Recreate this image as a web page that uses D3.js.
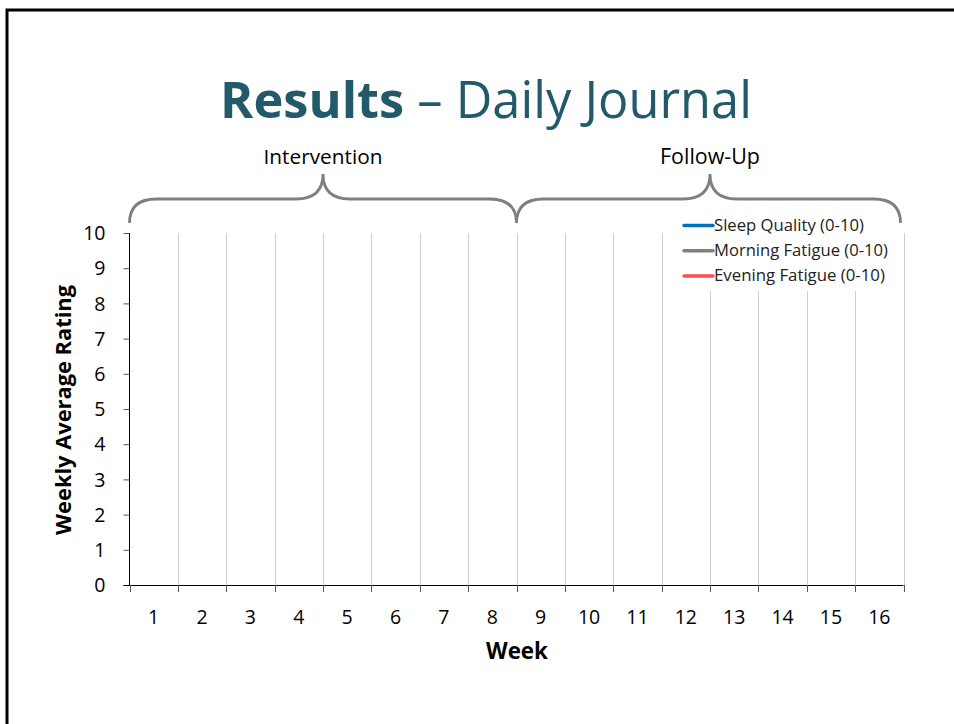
<!DOCTYPE html>
<html><head><meta charset="utf-8">
<script src="https://cdn.jsdelivr.net/npm/d3@7"></script>
<style>body{margin:0;background:#fff}svg{display:block}text{font-family:"Open Sans","Noto Sans",sans-serif}</style>
</head><body>
<svg id="c" width="954" height="724"></svg>
<script>
const weeks = ["1","2","3","4","5","6","7","8","9","10","11","12","13","14","15","16"];
const yTicks = [0,1,2,3,4,5,6,7,8,9,10];
const seriesNames = ["Sleep Quality (0-10)","Morning Fatigue (0-10)","Evening Fatigue (0-10)"];
const seriesColors = ["#0070c0","#808080","#ff4b4b"];
const sleepQuality = [];
const morningFatigue = [];
const eveningFatigue = [];
const phaseNames = ["Intervention","Follow-Up"];
const phaseStart = [0,8];
const phaseEnd = [8,16];

const svg = d3.select("#c");
function fitText(sel, w){ const n=sel.node(); let fs=parseFloat(sel.attr("font-size")); const l=n.getComputedTextLength(); sel.attr("font-size", fs*w/l); }

// slide frame
svg.append("rect").attr("x",7).attr("y",10).attr("width",1000).attr("height",1000).attr("fill","none").attr("stroke","#000").attr("stroke-width",3);

// title
const t = svg.append("text").attr("x",486).attr("y",118).attr("text-anchor","middle").attr("font-size",50).attr("fill","#235a6a");
t.append("tspan").attr("font-weight","bold").text("Results");
t.append("tspan").text(" \u2013 Daily Journal");
fitText(t, 532);

const L=129.5, R=903.5, T=233, B=585;
const x = d3.scaleBand().domain(weeks).range([L,R]);
const xb = d3.scaleLinear().domain([0,weeks.length]).range([L,R]);
const y = d3.scaleLinear().domain([0,10]).range([B,T]);

// gridlines (at category boundaries)
const bounds = d3.range(1, weeks.length+1);
svg.append("g").selectAll("line").data(bounds).join("line")
  .attr("x1",d=>Math.round(xb(d))+0.5).attr("x2",d=>Math.round(xb(d))+0.5)
  .attr("y1",T).attr("y2",B).attr("stroke","#d0d0d0").attr("stroke-width",1);

// y axis
const ya = svg.append("g").attr("transform",`translate(${L},0)`)
  .call(d3.axisLeft(y).tickValues(yTicks).tickSize(6).tickPadding(18).tickFormat(d3.format("d")));
ya.select(".domain").attr("stroke","#000").attr("d",`M0,${T}V${B}`);
ya.selectAll(".tick line").attr("stroke","#555");
ya.selectAll(".tick text").attr("font-size",19.5).attr("fill","#000").attr("dy","0.34em");

// x axis
svg.append("line").attr("x1",L-6).attr("x2",R).attr("y1",B+0.5).attr("y2",B+0.5).attr("stroke","#000");
svg.append("g").selectAll("line").data(d3.range(0,weeks.length+1)).join("line")
  .attr("x1",d=>Math.round(xb(d))+0.5).attr("x2",d=>Math.round(xb(d))+0.5)
  .attr("y1",B).attr("y2",B+7).attr("stroke","#555");
svg.append("g").selectAll("text").data(weeks).join("text")
  .attr("x",d=>x(d)+x.bandwidth()/2).attr("y",624).attr("text-anchor","middle")
  .attr("font-size",19.5).attr("fill","#000").text(d=>d);

// axis titles
const wk = svg.append("text").attr("x",517).attr("y",659).attr("text-anchor","middle").attr("font-weight","bold").attr("font-size",19).text("Week");
fitText(wk, 62);
const yt = svg.append("text").attr("transform","translate(71,410) rotate(-90)").attr("text-anchor","middle").attr("font-weight","bold").attr("font-size",19).text("Weekly Average Rating");
fitText(yt, 250);

// series lines (no data recorded)
const line = d3.line().defined(d=>d!=null).x((d,i)=>x(weeks[i])+x.bandwidth()/2).y(d=>y(d));
[sleepQuality,morningFatigue,eveningFatigue].forEach((s,i)=>{
  svg.append("path").datum(s).attr("d",line).attr("fill","none").attr("stroke",seriesColors[i]).attr("stroke-width",3);
});

// legend
svg.append("rect").attr("x",682).attr("y",213).attr("width",218).attr("height",78).attr("fill","#fff");
const lg = svg.append("g").selectAll("g").data(seriesNames).join("g")
  .attr("transform",(d,i)=>`translate(684,${225.5+i*25.3})`);
lg.append("line").attr("x1",0).attr("x2",29).attr("stroke",(d,i)=>seriesColors[i]).attr("stroke-width",3.5).attr("stroke-linecap","round");
lg.append("text").attr("x",30).attr("y",5).attr("font-size",13.5).attr("fill","#222").text(d=>d)
  .each(function(d,i){ const w=[150,174,171][i]; const s=d3.select(this); fitText(s,w); });

// phase braces
const labelW = [119,100];
phaseNames.forEach((p,i)=>{
  const x0 = xb(phaseStart[i]), x1 = xb(phaseEnd[i]) - (i===1?3:0), m = (xb(phaseStart[i])+xb(phaseEnd[i]))/2;
  const yf=199, ye=223, yt=174, r=27;
  const d = `M${x0},${ye} Q${x0},${yf} ${x0+r},${yf} L${m-r},${yf} Q${m},${yf} ${m},${yt} Q${m},${yf} ${m+r},${yf} L${x1-r},${yf} Q${x1},${yf} ${x1},${ye}`;
  svg.append("path").attr("d",d).attr("fill","none").attr("stroke","#7f7f7f").attr("stroke-width",2.8);
  const lt = svg.append("text").attr("x",m).attr("y",164).attr("text-anchor","middle").attr("font-size",17.5).attr("fill","#000").text(p);
  fitText(lt, labelW[i]);
});
</script>
</body></html>
